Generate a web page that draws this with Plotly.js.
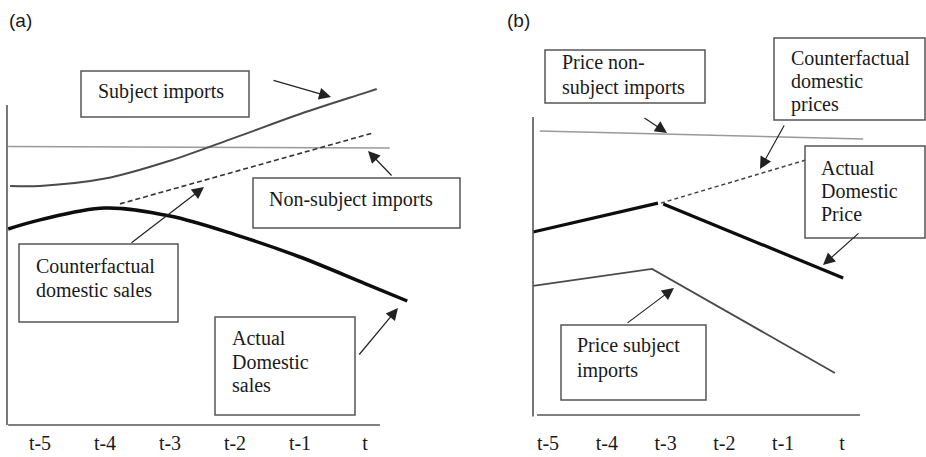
<!DOCTYPE html>
<html>
<head>
<meta charset="utf-8">
<script src="https://cdn.plot.ly/plotly-3.0.1.min.js"></script>
<style>html,body{margin:0;padding:0;background:#fff;}#chart{width:926px;height:457px;}</style>
</head>
<body>
<div id="chart"></div>
<script>
// ---- data (schematic values) ----
const tickLabels = ['t-5', 't-4', 't-3', 't-2', 't-1', 't'];
const tickIndex = [0, 1, 2, 3, 4, 5];

// Panel (a): volumes
const subjImpX = [-0.46, 0, 1, 2, 3, 4, 5, 5.18];
const subjImpY = [74.7, 74.7, 77.0, 82.6, 89.8, 97.2, 103.8, 105];
const nonSubjImpX = [-0.49, 5.38];
const nonSubjImpY = [87, 86.6];
const cfSalesX = [1.23, 5.12];
const cfSalesY = [69.1, 91.25];
const actSalesX = [-0.49, 0, 1, 2, 3, 4, 5, 5.65];
const actSalesY = [61.25, 64.1, 67.8, 65.3, 59.5, 52.5, 44.2, 38.75];

// Panel (b): prices
const priceNonSubjX = [-0.14, 5.36];
const priceNonSubjY = [95.3, 92.6];
const actPriceX = [-0.255, 1.87, 1.9, 1.96, 5.02];
const actPriceY = [61.4, 71.1, null, 70.8, 46.0];
const cfPriceX = [1.92, 4.39];
const cfPriceY = [71.1, 85.6];
const priceSubjX = [-0.255, 1.77, 4.88];
const priceSubjY = [43.3, 49.0, 14.1];

// ---- helpers ----
const W = 926, H = 457;
const px = v => v / W;
const py = v => 1 - v / H;
const SERIF = 'Liberation Serif, Times New Roman, serif';
const SANS = 'Liberation Sans, Arial, sans-serif';

const traces = [
  {x: nonSubjImpX, y: nonSubjImpY, xaxis: 'x', yaxis: 'y', mode: 'lines',
   line: {color: '#9a9a9a', width: 1.5}},
  {x: subjImpX, y: subjImpY, xaxis: 'x', yaxis: 'y', mode: 'lines',
   line: {color: '#4a4a4a', width: 2, shape: 'spline', smoothing: 1}},
  {x: cfSalesX, y: cfSalesY, xaxis: 'x', yaxis: 'y', mode: 'lines',
   line: {color: '#333', width: 1.6, dash: '5px,3px'}},
  {x: actSalesX, y: actSalesY, xaxis: 'x', yaxis: 'y', mode: 'lines',
   line: {color: '#0d0d0d', width: 3.5, shape: 'spline', smoothing: 1}},

  {x: priceNonSubjX, y: priceNonSubjY, xaxis: 'x2', yaxis: 'y2', mode: 'lines',
   line: {color: '#9a9a9a', width: 1.5}},
  {x: cfPriceX, y: cfPriceY, xaxis: 'x2', yaxis: 'y2', mode: 'lines',
   line: {color: '#444', width: 1.5, dash: '4px,3px'}},
  {x: actPriceX, y: actPriceY, xaxis: 'x2', yaxis: 'y2', mode: 'lines', connectgaps: false,
   line: {color: '#0d0d0d', width: 3.2}},
  {x: priceSubjX, y: priceSubjY, xaxis: 'x2', yaxis: 'y2', mode: 'lines',
   line: {color: '#4a4a4a', width: 1.8}}
];

const axisLine = {color: '#555', width: 1.6};
const boxLine = {color: '#555', width: 1.5};
const shapes = [
  // axes panel (a)
  {type: 'line', xref: 'x', yref: 'y', x0: -0.508, x1: -0.508, y0: 0, y1: 100, line: axisLine},
  {type: 'line', xref: 'x', yref: 'y', x0: -0.49, x1: 5.23, y0: 0, y1: 0, line: axisLine},
  // axes panel (b)
  {type: 'line', xref: 'x2', yref: 'y2', x0: -0.255, x1: -0.255, y0: -0.5, y1: 100, line: axisLine},
  {type: 'line', xref: 'x2', yref: 'y2', x0: -0.187, x1: 5.306, y0: 0, y1: 0, line: axisLine}
];
const boxes = [
  [81, 71, 249, 117], [253, 178, 460, 228], [19, 244, 178, 322], [215, 317, 355, 415],
  [545, 50, 705, 103], [774, 38, 925, 120], [805, 146, 925, 238], [561, 325, 706, 400]
];
boxes.forEach(b => shapes.push({type: 'rect', xref: 'paper', yref: 'paper',
  x0: px(b[0]), x1: px(b[2]), y0: py(b[3]), y1: py(b[1]),
  line: boxLine, fillcolor: '#fff', layer: 'above'}));

const annotations = [];
const textLines = [
  ['Subject imports', 97, 91],
  ['Non-subject imports', 268, 199],
  ['Counterfactual', 35, 266], ['domestic sales', 35, 290],
  ['Actual', 231, 338], ['Domestic', 231, 362], ['sales', 231, 385],
  ['Price non-', 561, 62], ['subject imports', 561, 88],
  ['Counterfactual', 790, 58], ['domestic', 790, 81], ['prices', 790, 104],
  ['Actual', 820, 168], ['Domestic', 820, 191], ['Price', 820, 214],
  ['Price subject', 576, 345], ['imports', 576, 370]
];
textLines.forEach(t => annotations.push({text: t[0], xref: 'paper', yref: 'paper',
  x: px(t[1]), y: py(t[2]), xanchor: 'left', yanchor: 'middle', showarrow: false,
  borderpad: 0, font: {family: SERIF, size: 20, color: '#1a1a1a'}}));

const arrows = [
  [272, 80, 331, 97], [393, 177, 368, 151], [130, 244, 204, 187], [358, 356, 398, 308],
  [643, 117, 667, 133], [785, 124, 760, 169], [860, 232, 823, 265], [626, 324, 674, 288]
];
arrows.forEach(a => annotations.push({text: '', xref: 'paper', yref: 'paper',
  x: px(a[2]), y: py(a[3]), ax: a[0] - a[2], ay: a[1] - a[3], showarrow: true,
  arrowhead: 2, arrowsize: 2, arrowwidth: 1.2, arrowcolor: '#222', standoff: 0}));

annotations.push({text: '(a)', xref: 'paper', yref: 'paper', x: px(7), y: py(21),
  xanchor: 'left', yanchor: 'middle', showarrow: false, font: {family: SANS, size: 19, color: '#1a1a1a'}});
annotations.push({text: '(b)', xref: 'paper', yref: 'paper', x: px(505), y: py(21),
  xanchor: 'left', yanchor: 'middle', showarrow: false, font: {family: SANS, size: 19, color: '#1a1a1a'}});

const bottomPx = 429;
const xCommon = {tickmode: 'array', tickvals: tickIndex, ticktext: tickLabels,
  showgrid: false, zeroline: false, showline: false, ticks: '', fixedrange: true,
  tickfont: {family: SERIF, size: 20, color: '#1a1a1a'}};
const yCommon = {visible: false, showgrid: false, zeroline: false, fixedrange: true,
  domain: [1 - bottomPx / H, 1]};

const layout = {
  width: W, height: H, margin: {l: 0, r: 0, t: 0, b: 0},
  paper_bgcolor: '#fff', plot_bgcolor: '#fff', showlegend: false,
  xaxis: Object.assign({}, xCommon, {domain: [0, 0.5], range: [-40 / 65, 423 / 65], anchor: 'y'}),
  yaxis: Object.assign({}, yCommon, {range: [(425 - bottomPx) / 3.2, 425 / 3.2], anchor: 'x'}),
  xaxis2: Object.assign({}, xCommon, {domain: [0.5, 1], range: [-85 / 58.8, 378 / 58.8], anchor: 'y2'}),
  yaxis2: Object.assign({}, yCommon, {range: [(415 - bottomPx) / 2.98, 415 / 2.98], anchor: 'x2'}),
  shapes: shapes, annotations: annotations
};

Plotly.newPlot('chart', traces, layout, {staticPlot: true, displayModeBar: false});
</script>
</body>
</html>
